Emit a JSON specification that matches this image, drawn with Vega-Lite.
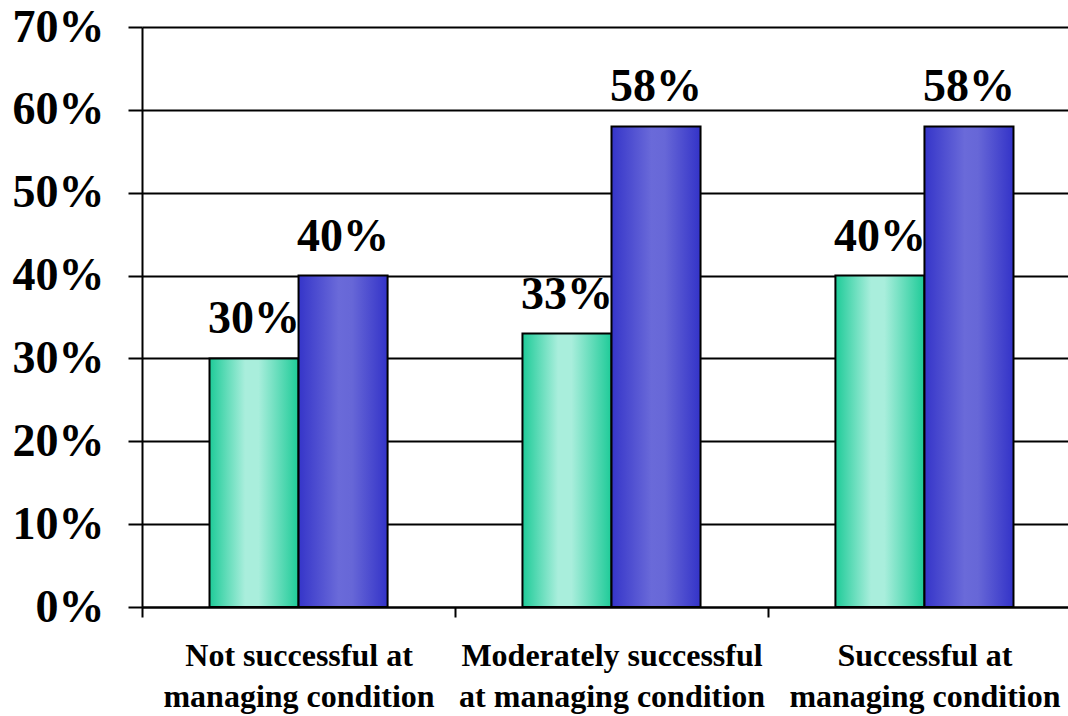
{
  "$schema": "https://vega.github.io/schema/vega-lite/v6.json",
  "autosize": {"type": "none"},
  "padding": {"left": 142, "top": 27, "right": 0, "bottom": 109},
  "width": 926,
  "height": 580,
  "background": "white",
  "config": {"view": {"stroke": null}},
  "data": {
    "values": [
      {"cat": "Not successful at|managing condition", "series": "Series 1", "value": 0.30},
      {"cat": "Not successful at|managing condition", "series": "Series 2", "value": 0.40},
      {"cat": "Moderately successful|at managing condition", "series": "Series 1", "value": 0.33},
      {"cat": "Moderately successful|at managing condition", "series": "Series 2", "value": 0.58},
      {"cat": "Successful at|managing condition", "series": "Series 1", "value": 0.40},
      {"cat": "Successful at|managing condition", "series": "Series 2", "value": 0.58}
    ]
  },
  "encoding": {
    "x": {
      "field": "cat",
      "type": "nominal",
      "sort": null,
      "scale": {"range": [0, 939], "paddingInner": 0.431, "paddingOuter": 0.2157},
      "axis": {
        "title": null,
        "grid": false,
        "bandPosition": 0,
        "tickOffset": -67.5,
        "labelOffset": 67.5,
        "tickSize": 10,
        "tickWidth": 2,
        "tickColor": "black",
        "domainColor": "black",
        "domainWidth": 2,
        "labelAngle": 0,
        "labelAlign": "center",
        "labelLimit": 0,
        "labelFont": "Liberation Serif",
        "labelFontWeight": "bold",
        "labelFontSize": 32,
        "labelColor": "black",
        "labelPadding": 23,
        "labelLineHeight": 41,
        "labelExpr": "split(datum.label, '|')"
      }
    },
    "xOffset": {"field": "series", "type": "nominal", "scale": {"domain": ["Series 1", "Series 2"]}},
    "y": {
      "field": "value",
      "type": "quantitative",
      "scale": {"domain": [0, 0.7]},
      "axis": {
        "title": null,
        "format": ".0%",
        "values": [0, 0.1, 0.2, 0.3, 0.4, 0.5, 0.6, 0.7],
        "grid": true,
        "gridColor": "black",
        "gridWidth": 2,
        "gridOpacity": 1,
        "tickSize": 14,
        "tickWidth": 2,
        "tickColor": "black",
        "domainColor": "black",
        "domainWidth": 2,
        "labelFont": "Liberation Serif",
        "labelFontWeight": "bold",
        "labelFontSize": 46,
        "labelColor": "black",
        "labelPadding": 24
      }
    }
  },
  "layer": [
    {
      "transform": [{"filter": "datum.series == 'Series 1'"}],
      "mark": {
        "type": "bar",
        "stroke": "black",
        "strokeWidth": 2,
        "color": {
          "gradient": "linear", "x1": 0, "x2": 1, "y1": 0, "y2": 0,
          "stops": [
            {"offset": 0, "color": "#1ecb98"},
            {"offset": 0.4, "color": "#a9eedc"},
            {"offset": 0.55, "color": "#a9eedc"},
            {"offset": 1, "color": "#1ecb98"}
          ]
        }
      }
    },
    {
      "transform": [{"filter": "datum.series == 'Series 2'"}],
      "mark": {
        "type": "bar",
        "stroke": "black",
        "strokeWidth": 2,
        "color": {
          "gradient": "linear", "x1": 0, "x2": 1, "y1": 0, "y2": 0,
          "stops": [
            {"offset": 0, "color": "#3535c9"},
            {"offset": 0.45, "color": "#6a6ad9"},
            {"offset": 0.6, "color": "#6767d7"},
            {"offset": 1, "color": "#3333c8"}
          ]
        }
      }
    },
    {
      "mark": {
        "type": "text",
        "baseline": "alphabetic",
        "dy": -25,
        "font": "Liberation Serif",
        "fontWeight": "bold",
        "fontSize": 46,
        "color": "black"
      },
      "encoding": {
        "text": {"field": "value", "type": "quantitative", "format": ".0%"}
      }
    }
  ]
}
